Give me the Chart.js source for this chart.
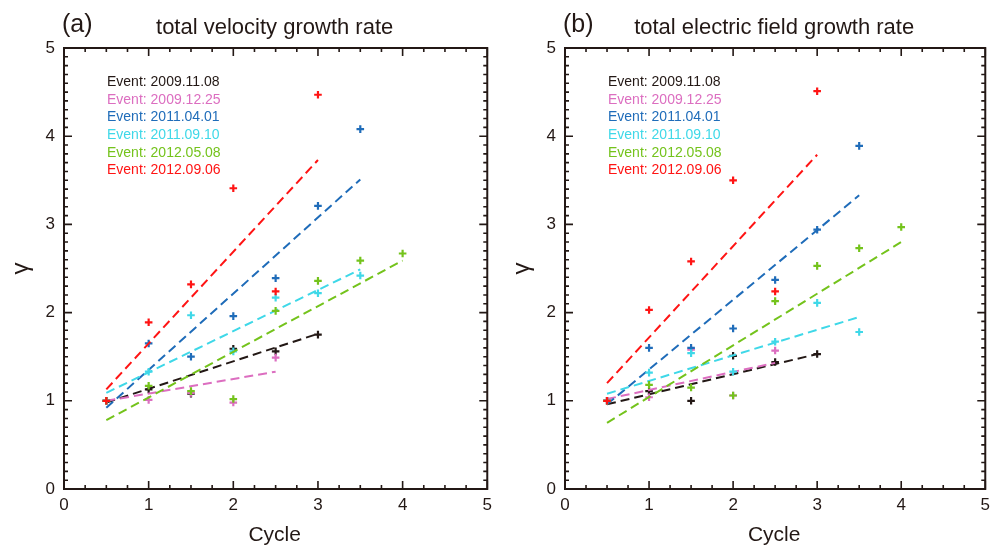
<!DOCTYPE html>
<html>
<head>
<meta charset="utf-8">
<script src="https://cdn.jsdelivr.net/npm/chart.js@4/dist/chart.umd.min.js"></script>
<style>
  html, body { margin: 0; padding: 0; background: #ffffff; }
  #wrap { position: relative; width: 996px; height: 548px; }
  canvas { position: absolute; top: 0; }
  #cvA { left: 0; }
  #cvB { left: 498px; }
</style>
</head>
<body>
<div id="wrap">
  <canvas id="cvA" width="498" height="548"></canvas>
  <canvas id="cvB" width="498" height="548"></canvas>
</div>
<script>
// Cycle positions shared by every event
const cycles = [0.5, 1, 1.5, 2, 2.5, 3, 3.5, 4];

const eventNames = [
  'Event: 2009.11.08',
  'Event: 2009.12.25',
  'Event: 2011.04.01',
  'Event: 2011.09.10',
  'Event: 2012.05.08',
  'Event: 2012.09.06'
];
const eventColors = ['#231815', '#dc6ec0', '#1f6cb9', '#3fd8e8', '#74c31c', '#ff1414'];

// (a) total velocity growth rate, one list per event
const velEvent1 = [1.00, 1.13, 1.08, 1.59, 1.56, 1.75];
const velEvent2 = [1.00, 1.01, 1.09, 0.98, 1.49];
const velEvent3 = [1.00, 1.65, 1.50, 1.96, 2.39, 3.21, 4.08];
const velEvent4 = [1.00, 1.33, 1.97, 1.56, 2.17, 2.22, 2.42];
const velEvent5 = [1.00, 1.17, 1.11, 1.02, 2.02, 2.36, 2.59, 2.67];
const velEvent6 = [1.00, 1.89, 2.32, 3.41, 2.24, 4.47];
// fitted trend: value at the first and at the last cycle of each event
const velFitStart = [0.98, 1.00, 0.92, 1.09, 0.78, 1.13];
const velFitEnd   = [1.76, 1.33, 3.51, 2.49, 2.59, 3.73];

// (b) total electric field growth rate, one list per event
const fldEvent1 = [1.00, 1.11, 1.00, 1.51, 1.44, 1.53];
const fldEvent2 = [1.00, 1.04, 1.58, 1.06, 1.57];
const fldEvent3 = [1.00, 1.60, 1.60, 1.82, 2.37, 2.94, 3.89];
const fldEvent4 = [1.00, 1.32, 1.54, 1.33, 1.67, 2.11, 1.78];
const fldEvent5 = [1.00, 1.18, 1.15, 1.06, 2.13, 2.53, 2.73, 2.97];
const fldEvent6 = [1.00, 2.03, 2.58, 3.50, 2.24, 4.51];
const fldFitStart = [0.96, 1.02, 0.96, 1.08, 0.75, 1.20];
const fldFitEnd   = [1.53, 1.43, 3.33, 1.95, 2.80, 3.79];

// axis ranges and tick spacing
const xTickValues = [0, 1, 2, 3, 4, 5];
const yTickValues = [0, 1, 2, 3, 4, 5];
const xMinorStep = 0.25;
const yMinorStep = 0.1;

const AXIS_COLOR = '#231815';
const FONT = '"Liberation Sans", Arial, Helvetica, sans-serif';

function buildDatasets(series, fitStart, fitEnd) {
  const sets = [];
  // later events are drawn on top, so list them first
  for (let i = series.length - 1; i >= 0; i--) {
    const vals = series[i];
    const color = eventColors[i];
    const lastX = cycles[vals.length - 1];
    sets.push({
      label: eventNames[i] + ' fit',
      data: [{ x: cycles[0], y: fitStart[i] }, { x: lastX, y: fitEnd[i] }],
      showLine: true,
      borderColor: color,
      borderWidth: 2,
      borderDash: [9, 5],
      pointRadius: 0,
      fill: false
    });
    sets.push({
      label: eventNames[i],
      data: vals.map((v, k) => ({ x: cycles[k], y: v })),
      showLine: false,
      pointStyle: 'cross',
      pointRadius: 3.8,
      pointBorderWidth: 2.2,
      borderColor: color,
      backgroundColor: color
    });
  }
  return sets;
}

// frame, inward ticks, titles and the event list
const decorPlugin = {
  id: 'decor',
  afterDatasetsDraw(chart, args, opts) {
    const ctx = chart.ctx;
    const a = chart.chartArea;
    const xs = chart.scales.x, ys = chart.scales.y;
    ctx.save();
    ctx.strokeStyle = AXIS_COLOR;
    ctx.lineCap = 'butt';

    // minor and major ticks on all four sides, pointing inward
    ctx.lineWidth = 1.6;
    ctx.beginPath();
    const xMax = xTickValues[xTickValues.length - 1];
    const nx = Math.round(xMax / xMinorStep);
    for (let k = 0; k <= nx; k++) {
      const v = k * xMinorStep;
      const px = xs.getPixelForValue(v);
      const major = xTickValues.includes(v);
      const len = major ? 8 : 4;
      ctx.moveTo(px, a.bottom); ctx.lineTo(px, a.bottom - len);
      ctx.moveTo(px, a.top); ctx.lineTo(px, a.top + len);
    }
    const yMax = yTickValues[yTickValues.length - 1];
    const ny = Math.round(yMax / yMinorStep);
    for (let k = 0; k <= ny; k++) {
      const v = Math.round(k * yMinorStep * 10) / 10;
      const py = ys.getPixelForValue(v);
      const major = yTickValues.includes(v);
      const len = major ? 8 : 4;
      ctx.moveTo(a.left, py); ctx.lineTo(a.left + len, py);
      ctx.moveTo(a.right, py); ctx.lineTo(a.right - len, py);
    }
    ctx.stroke();

    // frame
    ctx.lineWidth = 2;
    ctx.strokeRect(a.left, a.top, a.right - a.left, a.bottom - a.top);

    // panel tag and title
    ctx.fillStyle = AXIS_COLOR;
    ctx.textBaseline = 'alphabetic';
    ctx.textAlign = 'left';
    ctx.font = '25px ' + FONT;
    ctx.fillText(opts.tag, a.left - 2, 32);
    ctx.textAlign = 'center';
    ctx.font = '22px ' + FONT;
    ctx.fillText(opts.title, (a.left + a.right) / 2 - 1, 34);

    // axis titles
    ctx.font = '21px ' + FONT;
    ctx.fillText('Cycle', (a.left + a.right) / 2 - 1, 541);
    ctx.save();
    ctx.translate(a.left - 43, (a.top + a.bottom) / 2);
    ctx.rotate(-Math.PI / 2);
    ctx.textBaseline = 'middle';
    ctx.font = '24px ' + FONT;
    ctx.fillText('γ', 0, 0);
    ctx.restore();

    // event list
    ctx.textAlign = 'left';
    ctx.textBaseline = 'middle';
    ctx.font = '14px ' + FONT;
    eventNames.forEach((name, i) => {
      ctx.fillStyle = eventColors[i];
      ctx.fillText(name, a.left + 43, 82 + i * 17.7);
    });
    ctx.restore();
  }
};

function makePanel(canvasId, tag, title, series, fitStart, fitEnd, yAxisWidth) {
  return new Chart(document.getElementById(canvasId), {
    type: 'scatter',
    data: { datasets: buildDatasets(series, fitStart, fitEnd) },
    options: {
      responsive: false,
      animation: false,
      layout: { padding: { left: 0, top: 48, right: 10, bottom: 0 } },
      plugins: {
        legend: { display: false },
        tooltip: { enabled: false },
        decor: { tag: tag, title: title }
      },
      scales: {
        x: {
          type: 'linear',
          min: xTickValues[0],
          max: xTickValues[xTickValues.length - 1],
          afterBuildTicks: s => { s.ticks = xTickValues.map(v => ({ value: v })); },
          ticks: { color: AXIS_COLOR, font: { family: FONT, size: 17 }, padding: 6, maxRotation: 0 },
          grid: { display: false, drawTicks: false },
          border: { display: false },
          afterFit: s => { s.height = 59; }
        },
        y: {
          type: 'linear',
          min: yTickValues[0],
          max: yTickValues[yTickValues.length - 1],
          afterBuildTicks: s => { s.ticks = yTickValues.map(v => ({ value: v })); },
          ticks: { color: AXIS_COLOR, font: { family: FONT, size: 17 }, padding: 9 },
          grid: { display: false, drawTicks: false },
          border: { display: false },
          afterFit: s => { s.width = yAxisWidth; }
        }
      }
    },
    plugins: [decorPlugin]
  });
}

makePanel('cvA', '(a)', 'total velocity growth rate',
  [velEvent1, velEvent2, velEvent3, velEvent4, velEvent5, velEvent6],
  velFitStart, velFitEnd, 64);
makePanel('cvB', '(b)', 'total electric field growth rate',
  [fldEvent1, fldEvent2, fldEvent3, fldEvent4, fldEvent5, fldEvent6],
  fldFitStart, fldFitEnd, 67);
</script>
</body>
</html>
